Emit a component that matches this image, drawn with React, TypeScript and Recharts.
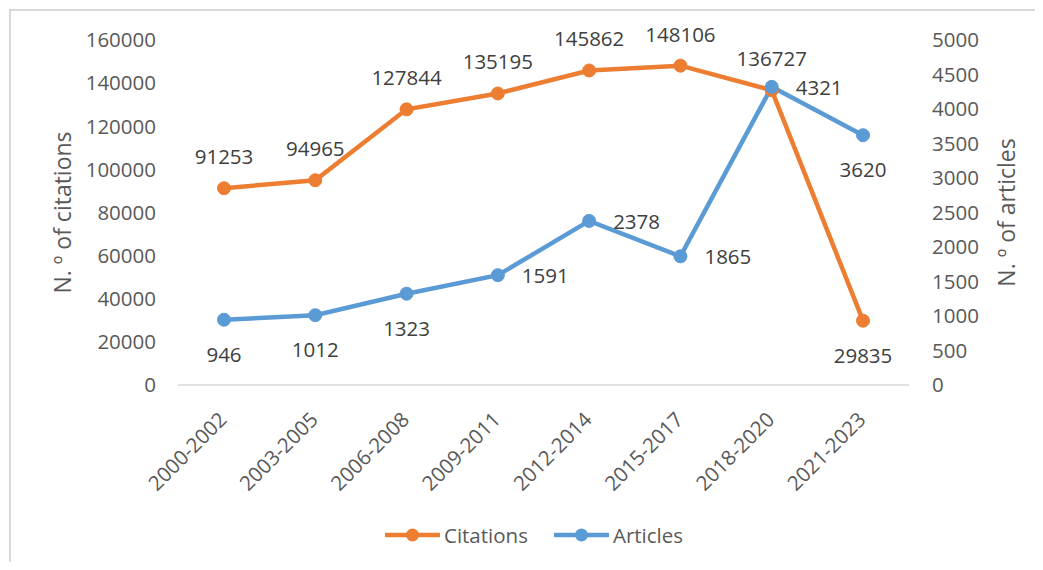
import { LineChart, Line, XAxis, YAxis, Legend, LabelList } from 'recharts';

const periods = ['2000-2002', '2003-2005', '2006-2008', '2009-2011', '2012-2014', '2015-2017', '2018-2020', '2021-2023'];
const citations = [91253, 94965, 127844, 135195, 145862, 148106, 136727, 29835];
const articles = [946, 1012, 1323, 1591, 2378, 1865, 4321, 3620];
const citationTicks = [0, 20000, 40000, 60000, 80000, 100000, 120000, 140000, 160000];
const articleTicks = [0, 500, 1000, 1500, 2000, 2500, 3000, 3500, 4000, 4500, 5000];

// where each data label sits relative to its point
const citationLabelPlace = ['top', 'top', 'top', 'top', 'top', 'top', 'top', 'bottom'];
const articleLabelPlace = ['bottom', 'bottom', 'bottom', 'right', 'right', 'right', 'right', 'bottom'];

const ORANGE = '#ED7D31';
const BLUE = '#5B9BD5';
const FONT = '"Open Sans", sans-serif';

const data = periods.map((period, i) => ({
  period,
  citations: citations[i],
  articles: articles[i],
}));

function makeLabel(places: string[]) {
  return (props: any) => {
    const { x, y, value, index } = props;
    const place = places[index];
    let tx = x;
    let ty = y;
    let anchor: 'middle' | 'start' = 'middle';
    if (place === 'top') ty = y - 32;
    else if (place === 'bottom') ty = y + 34;
    else {
      tx = x + 24;
      anchor = 'start';
    }
    return (
      <text x={tx} y={ty} textAnchor={anchor} dominantBaseline="central" fill="#404040" fontSize={20.5} fontFamily={FONT}>
        {value}
      </text>
    );
  };
}

function PeriodTick(props: any) {
  const { x, payload } = props;
  const ax = x + 4;
  const ay = 421;
  return (
    <text x={ax} y={ay} transform={`rotate(-45 ${ax} ${ay})`} textAnchor="end" fill="#595959" fontSize={20.5} fontFamily={FONT}>
      {payload.value}
    </text>
  );
}

function axisTitle(text: string, dx: number) {
  return (props: any) => {
    const vb = props.viewBox;
    const cx = vb.x + dx;
    const cy = vb.y + vb.height / 2;
    return (
      <text x={cx} y={cy} transform={`rotate(-90 ${cx} ${cy})`} textAnchor="middle" dominantBaseline="central" fill="#595959" fontSize={23} fontFamily={FONT}>
        {text}
      </text>
    );
  };
}

function LegendContent() {
  const items = [
    { name: 'Citations', color: ORANGE },
    { name: 'Articles', color: BLUE },
  ];
  return (
    <div style={{ display: 'flex', justifyContent: 'center', alignItems: 'center', height: 70, paddingLeft: 25, gap: 26, fontFamily: FONT, fontSize: 20.5, color: '#595959' }}>
      {items.map((it) => (
        <div key={it.name} style={{ display: 'flex', alignItems: 'center', gap: 4 }}>
          <svg width={55} height={16}>
            <line x1={1} y1={8} x2={54} y2={8} stroke={it.color} strokeWidth={4.5} strokeLinecap="round" />
            <circle cx={27.5} cy={8} r={6.5} fill={it.color} />
          </svg>
          <span>{it.name}</span>
        </div>
      ))}
    </div>
  );
}

export default function App() {
  return (
    <div style={{ position: 'relative', width: 1043, height: 570, margin: -8, overflow: 'hidden', background: '#fff' }}>
      <div style={{ position: 'absolute', left: 9, top: 9, width: 1100, height: 620, border: '2px solid #D9D9D9' }} />
      <div style={{ position: 'absolute', left: 0, top: 0 }}>
        <LineChart width={1043} height={570} data={data} margin={{ top: 40, right: 0, bottom: 0, left: 0 }}>
          <XAxis
            dataKey="period"
            height={115}
            padding={{ left: 46, right: 46 }}
            tick={<PeriodTick />}
            tickLine={false}
            axisLine={{ stroke: '#D9D9D9', strokeWidth: 1.5 }}
            interval={0}
          />
          <YAxis
            yAxisId="left"
            orientation="left"
            width={178}
            domain={[0, 160000]}
            ticks={citationTicks}
            tickLine={false}
            axisLine={false}
            tickMargin={16}
            tick={{ fill: '#595959', fontSize: 20.5, fontFamily: FONT }}
            label={{ content: axisTitle('N. º of citations', 62) }}
          />
          <YAxis
            yAxisId="right"
            orientation="right"
            width={134}
            domain={[0, 5000]}
            ticks={articleTicks}
            tickLine={false}
            axisLine={false}
            tickMargin={17}
            tick={{ fill: '#595959', fontSize: 20.5, fontFamily: FONT, textAnchor: 'start' }}
            label={{ content: axisTitle('N. º of articles', 97) }}
          />
          <Legend verticalAlign="bottom" content={<LegendContent />} wrapperStyle={{ left: 0, width: 1043, height: 70, bottom: 0 }} />
          <Line
            yAxisId="left"
            type="linear"
            dataKey="citations"
            name="Citations"
            stroke={ORANGE}
            strokeWidth={4.5}
            dot={{ r: 6.5, fill: ORANGE, stroke: ORANGE, strokeWidth: 1 }}
            activeDot={false}
            isAnimationActive={false}
          >
            <LabelList dataKey="citations" content={makeLabel(citationLabelPlace)} />
          </Line>
          <Line
            yAxisId="right"
            type="linear"
            dataKey="articles"
            name="Articles"
            stroke={BLUE}
            strokeWidth={4.5}
            dot={{ r: 6.5, fill: BLUE, stroke: BLUE, strokeWidth: 1 }}
            activeDot={false}
            isAnimationActive={false}
          >
            <LabelList dataKey="articles" content={makeLabel(articleLabelPlace)} />
          </Line>
        </LineChart>
      </div>
    </div>
  );
}
